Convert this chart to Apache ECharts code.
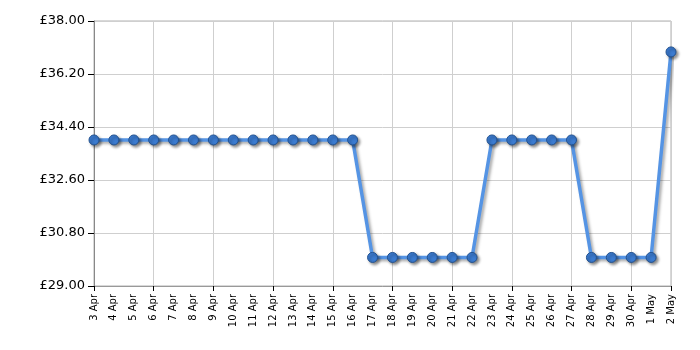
<!DOCTYPE html>
<html>
<head>
<meta charset="utf-8">
<script src="https://cdn.jsdelivr.net/npm/echarts@6/dist/echarts.min.js"></script>
<style>html,body{margin:0;padding:0;background:#fff}#c{width:700px;height:350px}</style>
</head>
<body>
<div id="c"></div>
<script>
const categories = ["3 Apr","4 Apr","5 Apr","6 Apr","7 Apr","8 Apr","9 Apr","10 Apr","11 Apr","12 Apr","13 Apr","14 Apr","15 Apr","16 Apr","17 Apr","18 Apr","19 Apr","20 Apr","21 Apr","22 Apr","23 Apr","24 Apr","25 Apr","26 Apr","27 Apr","28 Apr","29 Apr","30 Apr","1 May","2 May"];
const prices = [33.96,33.96,33.96,33.96,33.96,33.96,33.96,33.96,33.96,33.96,33.96,33.96,33.96,33.96,29.97,29.97,29.97,29.97,29.97,29.97,33.96,33.96,33.96,33.96,33.96,29.97,29.97,29.97,29.97,36.95];
const yMin = 29, yMax = 38, yStep = 1.8;

const chart = echarts.init(document.getElementById('c'), null, {renderer: 'canvas'});
chart.setOption({
  animation: false,
  grid: {left: 94, top: 21, width: 577, height: 265, show: true, borderColor: '#b0b0b0', borderWidth: 1, containLabel: false},
  xAxis: {
    type: 'category', data: categories, boundaryGap: false,
    axisLine: {lineStyle: {color: '#999', width: 1}},
    axisTick: {show: true, interval: 2, length: 5, lineStyle: {color: '#000'}},
    splitLine: {show: true, interval: 2, lineStyle: {color: '#cfcfcf', width: 1}},
    axisLabel: {interval: 0, rotate: 90, fontFamily: 'DejaVu Sans', fontSize: 10, color: '#000', margin: 8}
  },
  yAxis: {
    type: 'value', min: yMin, max: yMax, interval: yStep,
    axisLine: {show: true, lineStyle: {color: '#888', width: 1}},
    axisTick: {show: true, length: 6, lineStyle: {color: '#000'}},
    splitLine: {show: true, lineStyle: {color: '#cfcfcf', width: 1}},
    axisLabel: {fontFamily: 'DejaVu Sans', fontSize: 13, color: '#000', margin: 9,
      formatter: v => '£' + v.toFixed(2)}
  },
  series: [{
    type: 'line', data: prices,
    symbol: 'circle', symbolSize: 10,
    lineStyle: {color: '#5594e4', width: 3.5, shadowColor: 'rgba(0,0,0,0.35)', shadowBlur: 3, shadowOffsetX: 2, shadowOffsetY: 2},
    itemStyle: {color: '#3b7bd0', borderColor: '#23528f', borderWidth: 1, shadowColor: 'rgba(0,0,0,0.45)', shadowBlur: 3, shadowOffsetX: 2, shadowOffsetY: 2}
  }]
});
</script>
</body>
</html>
